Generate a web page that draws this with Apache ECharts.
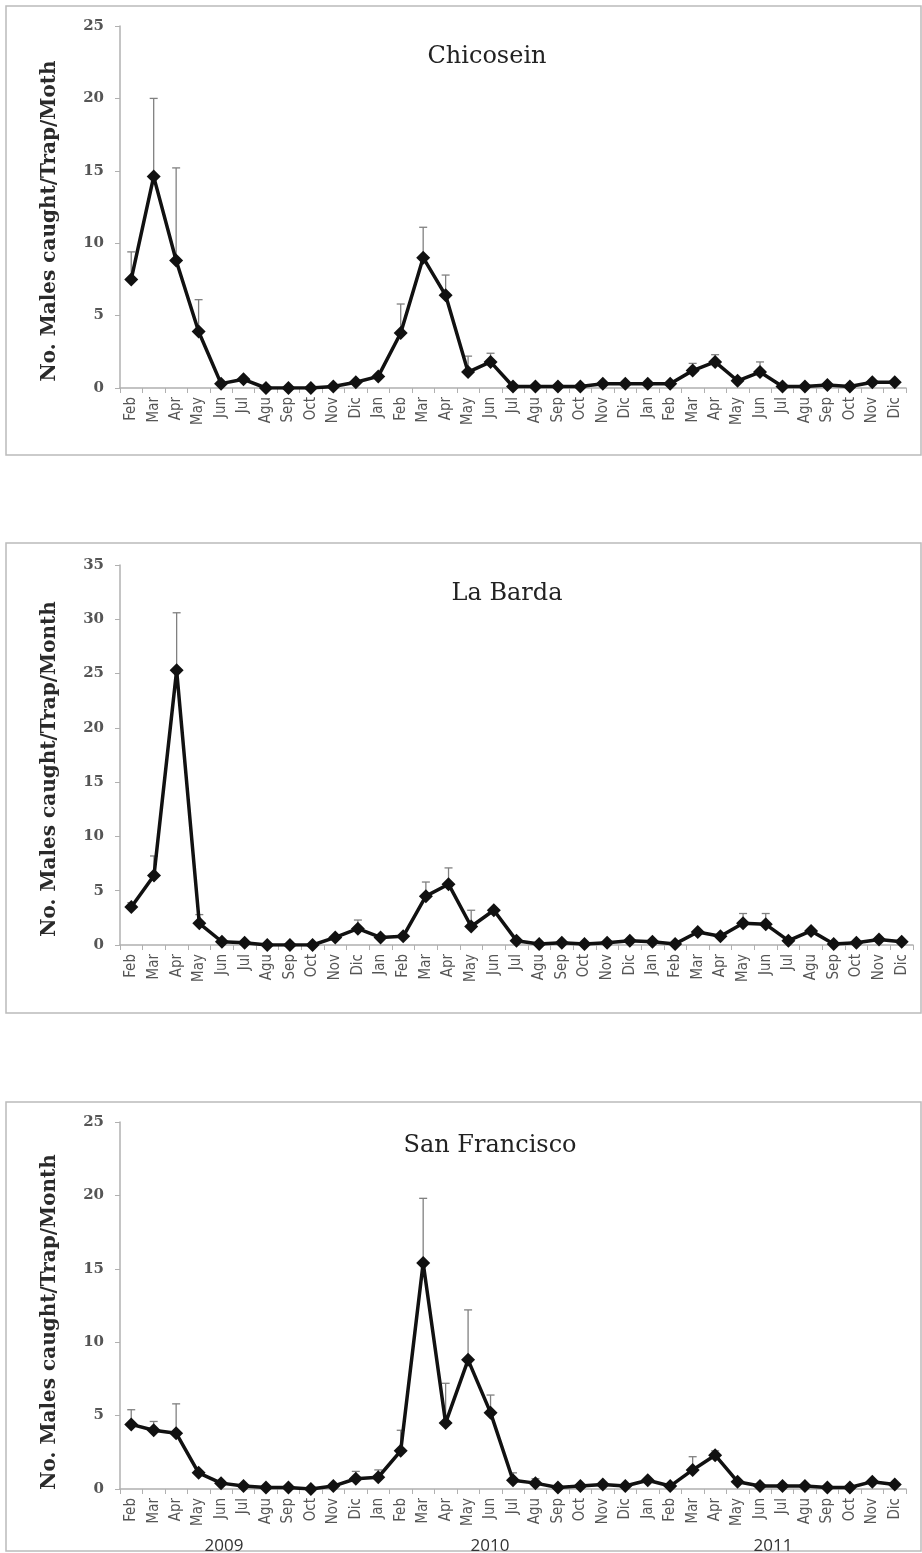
<!DOCTYPE html>
<html>
<head>
<meta charset="utf-8">
<style>
  html, body { margin: 0; padding: 0; background: #fff; }
  #main { width: 922px; height: 1553px; }
</style>
<script src="https://cdn.jsdelivr.net/npm/echarts@6/dist/echarts.min.js"></script>
</head>
<body>
<div id="main"></div>
<script>
// Feb 2009 .. Dic 2011
const months = ["Feb","Mar","Apr","May","Jun","Jul","Agu","Sep","Oct","Nov","Dic",
  "Jan","Feb","Mar","Apr","May","Jun","Jul","Agu","Sep","Oct","Nov","Dic",
  "Jan","Feb","Mar","Apr","May","Jun","Jul","Agu","Sep","Oct","Nov","Dic"];
const years = ["2009", "2010", "2011"];

// mean males / trap / month
const chicosein = [7.5,14.6,8.8,3.9,0.3,0.6,0,0,0,0.1,0.4,
  0.8,3.8,9.0,6.4,1.1,1.8,0.1,0.1,0.1,0.1,0.3,0.3,
  0.3,0.3,1.2,1.8,0.5,1.1,0.1,0.1,0.2,0.1,0.4,0.4];
// top of error bar (null = hidden under the marker)
const chicoseinErr = [9.4,20.0,15.2,6.1,null,null,null,null,null,null,null,
  null,5.8,11.1,7.8,2.2,2.4,null,null,null,null,null,null,
  null,null,1.7,2.3,null,1.8,null,null,null,null,null,null];

const laBarda = [3.5,6.4,25.3,2.0,0.3,0.2,0,0,0,0.7,1.5,
  0.7,0.8,4.5,5.6,1.7,3.2,0.4,0.1,0.2,0.1,0.2,0.4,
  0.3,0.1,1.2,0.8,2.0,1.9,0.4,1.3,0.1,0.2,0.5,0.3];
const laBardaErr = [3.9,8.2,30.6,2.8,null,null,null,null,null,null,2.3,
  null,null,5.8,7.1,3.2,null,null,null,null,null,null,null,
  null,null,null,null,2.9,2.9,null,null,null,null,null,null];

const sanFrancisco = [4.4,4.0,3.8,1.1,0.4,0.2,0.1,0.1,0,0.2,0.7,
  0.8,2.6,15.4,4.5,8.8,5.2,0.6,0.4,0.1,0.2,0.3,0.2,
  0.6,0.2,1.3,2.3,0.5,0.2,0.2,0.2,0.1,0.1,0.5,0.3];
const sanFranciscoErr = [5.4,4.6,5.8,null,null,null,null,null,null,null,1.2,
  1.3,4.0,19.8,7.2,12.2,6.4,1.1,0.7,null,null,null,null,
  null,null,2.2,2.6,null,null,null,null,null,null,null,null];

const chartDom = document.getElementById("main");
const myChart = echarts.init(chartDom, null, { renderer: "canvas" });

const panels = [
  { name: "Chicosein", data: chicosein, err: chicoseinErr, max: 25, interval: 5,
    ytitle: "No. Males caught/Trap/Moth",
    grid: { left: 120, top: 26, width: 786, height: 362 },
    box: [6, 6, 915, 449], titleX: 487, titleY: 57, ytitleY: 221 },
  { name: "La Barda", data: laBarda, err: laBardaErr, max: 35, interval: 5,
    ytitle: "No. Males caught/Trap/Month",
    grid: { left: 120, top: 565, width: 793, height: 380 },
    box: [6, 543, 915, 470], titleX: 507, titleY: 594, ytitleY: 769 },
  { name: "San Francisco", data: sanFrancisco, err: sanFranciscoErr, max: 25, interval: 5,
    ytitle: "No. Males caught/Trap/Month",
    grid: { left: 120, top: 1122, width: 786, height: 367 },
    box: [6, 1102, 915, 449], titleX: 490, titleY: 1146, ytitleY: 1322 }
];

function errorBars(params, api) {
  const x = api.value(0);
  const p0 = api.coord([x, api.value(1)]);
  const p1 = api.coord([x, api.value(2)]);
  const st = { stroke: "#808080", lineWidth: 1.3 };
  return {
    type: "group",
    children: [
      { type: "line", shape: { x1: p0[0], y1: p0[1], x2: p1[0], y2: p1[1] }, style: st },
      { type: "line", shape: { x1: p1[0] - 4, y1: p1[1], x2: p1[0] + 4, y2: p1[1] }, style: st }
    ]
  };
}

let grids = [], xAxes = [], yAxes = [], series = [], graphics = [];

panels.forEach((p, i) => {
  grids.push(p.grid);
  xAxes.push({
    type: "category", gridIndex: i, data: months, boundaryGap: true,
    axisLine: { lineStyle: { color: "#b0b0b0", width: 1.5 } },
    axisTick: { show: true, alignWithLabel: false, length: 5, lineStyle: { color: "#b0b0b0" } },
    axisLabel: { interval: 0, rotate: 90, margin: 9, color: "#555",
      fontFamily: "'DejaVu Sans Condensed', 'DejaVu Sans'", fontSize: 15 }
  });
  yAxes.push({
    type: "value", gridIndex: i, min: 0, max: p.max, interval: p.interval,
    splitLine: { show: false },
    axisLine: { show: true, lineStyle: { color: "#b0b0b0", width: 1.5 } },
    axisTick: { show: true, length: 5, lineStyle: { color: "#b0b0b0" } },
    axisLabel: { margin: 16, color: "#555", fontFamily: "DejaVu Serif",
      fontWeight: "bold", fontSize: 15 }
  });

  const errData = [];
  p.err.forEach((hi, k) => { if (hi !== null) errData.push([k, p.data[k], hi]); });
  series.push({
    type: "custom", xAxisIndex: i, yAxisIndex: i, renderItem: errorBars,
    data: errData, encode: { x: 0, y: [1, 2] }, z: 1
  });
  series.push({
    type: "line", name: p.name, xAxisIndex: i, yAxisIndex: i, data: p.data,
    symbol: "diamond", symbolSize: 14,
    lineStyle: { color: "#111", width: 3.5 },
    itemStyle: { color: "#111" }, z: 3
  });

  graphics.push({
    type: "rect", shape: { x: p.box[0], y: p.box[1], width: p.box[2], height: p.box[3] },
    style: { fill: "none", stroke: "#bbb", lineWidth: 1.5 }, z: -1
  });
  graphics.push({
    type: "text", x: p.titleX, y: p.titleY,
    style: { text: p.name, font: "24px 'DejaVu Serif'", fill: "#222",
      textAlign: "center", textVerticalAlign: "middle" }
  });
  graphics.push({
    type: "text", x: 50, y: p.ytitleY, rotation: Math.PI / 2,
    style: { text: p.ytitle, font: "bold 20px 'DejaVu Serif'", fill: "#2a2a2a",
      textAlign: "center", textVerticalAlign: "middle" }
  });
});

// year labels under the last panel
const yearX = [224, 490, 773];
years.forEach((y, k) => {
  graphics.push({
    type: "text", x: yearX[k], y: 1546,
    style: { text: y, font: "17px 'Open Sans'", fill: "#333",
      textAlign: "center", textVerticalAlign: "middle" }
  });
});

const option = {
  animation: false,
  backgroundColor: "#fff",
  grid: grids,
  xAxis: xAxes,
  yAxis: yAxes,
  series: series,
  graphic: graphics
};
option && myChart.setOption(option);
</script>
</body>
</html>
